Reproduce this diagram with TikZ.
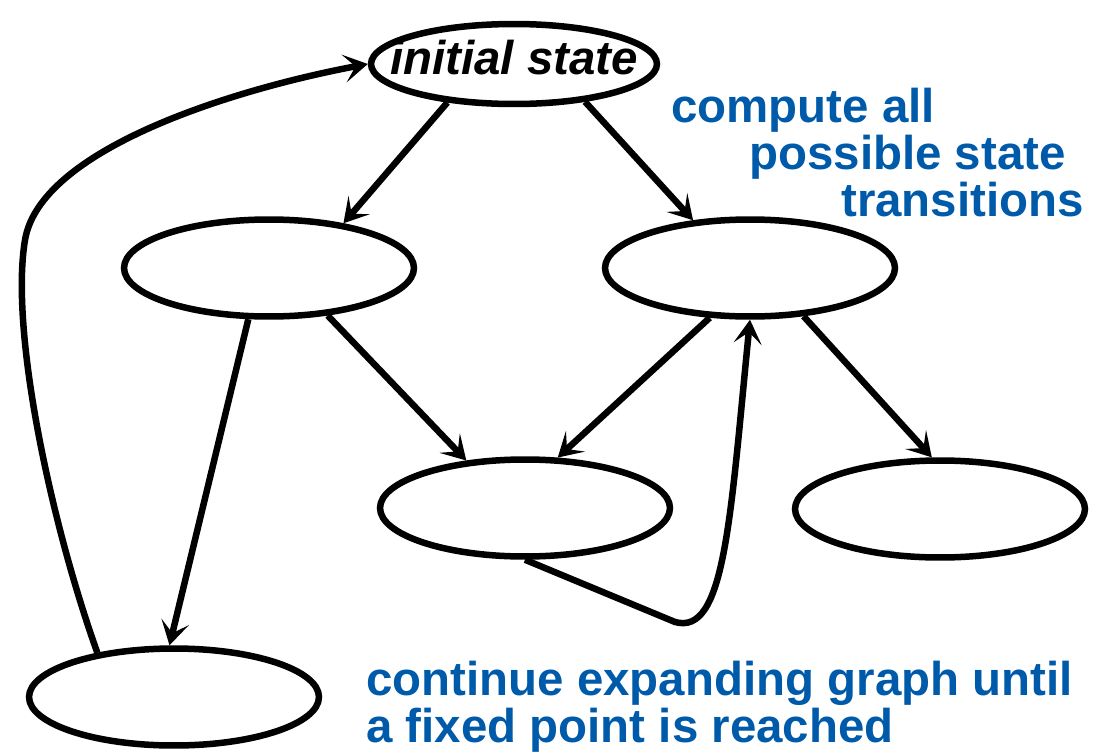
\documentclass[tikz,border=0pt]{standalone}
\usepackage{fontspec}
\setmainfont{Liberation Sans}
\usepackage{xcolor}
\usetikzlibrary{arrows.meta, shapes.geometric}
\definecolor{noteblue}{RGB}{0,90,170}

\tikzset{
  state/.style={ellipse, draw, line width=0.13cm, minimum width=5.8cm, minimum height=1.94cm, inner sep=0pt},
  trans/.style={line width=0.13cm, -{Stealth[length=4.8mm, width=5.6mm, inset=2.3mm]}},
  note/.style={text=noteblue, font=\fontsize{27}{26.7}\selectfont\bfseries, align=left, anchor=north west, inner sep=0pt}
}

\begin{document}
\begin{tikzpicture}[x=0.02cm, y=-0.02cm]
\useasboundingbox (0,0) rectangle (1103,754);
% states
\node[state, minimum width=5.72cm, minimum height=1.6cm, text depth=0.28cm,
  font=\fontsize{27}{27}\selectfont\bfseries\itshape] (init) at (514,64) {\makebox[0pt]{initial state}};
\node[state] (A) at (269,268) {};
\node[state] (B) at (750,268) {};
\node[state] (C) at (525,508) {};
\node[state] (D) at (940,509) {};
\node[state] (E) at (174,697) {};
% transitions
\draw[trans] (init.210) -- (A.31);
\draw[trans] (init.332) -- (B.140);
\draw[trans] (A.248) -- (E.95);
\draw[trans] (A.321) -- (C.141);
\draw[trans] (B.231) -- (C.57);
\draw[trans] (B.318) -- (D.99);
\coordinate (turn) at (675,622);
\draw[trans] (C.south) -- (turn) .. controls (725,636) and (730,520) .. (B.south);
\draw[trans] (E.150) .. controls (50,520) and (10,330) .. (25,240)
  .. controls (40,150) and (230,90) .. (init.west);
% notes
\node[note] (compute) at (671,88) {compute all\\\hspace{1.56cm}possible state\\\hspace{3.4cm}transitions};
\node[note] (expand) at (366,661) {continue expanding graph until\\a fixed point is reached};
\end{tikzpicture}
\end{document}
